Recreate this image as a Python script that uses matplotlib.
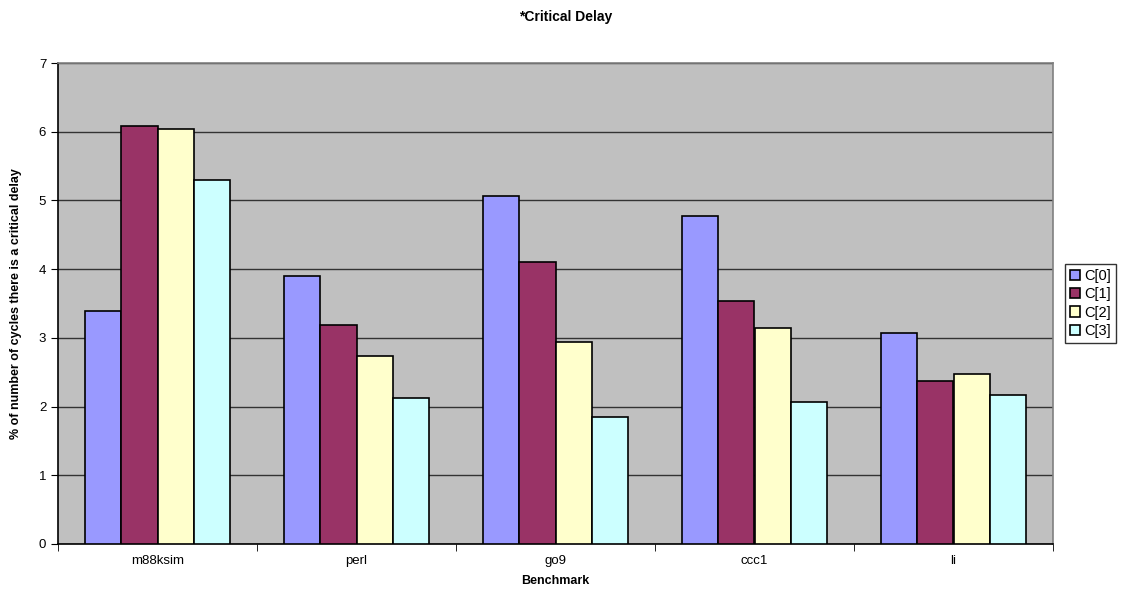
import matplotlib.pyplot as plt
import numpy as np

plt.rcParams['font.family'] = ['Liberation Sans', 'DejaVu Sans']

benchmarks = ['m88ksim', 'perl', 'go9', 'ccc1', 'li']
series_names = ['C[0]', 'C[1]', 'C[2]', 'C[3]']
c0 = [3.39, 3.90, 5.06, 4.78, 3.07]
c1 = [6.08, 3.19, 4.10, 3.53, 2.37]
c2 = [6.04, 2.74, 2.94, 3.15, 2.48]
c3 = [5.30, 2.12, 1.85, 2.07, 2.17]
colors = ['#9999FF', '#993366', '#FFFFCC', '#CCFFFF']

fig = plt.figure(figsize=(11.22, 5.94), dpi=100)
ax = fig.add_axes([58 / 1122, 1 - 544 / 594, (1053 - 58) / 1122, (544 - 63) / 594])
ax.set_facecolor('#C0C0C0')

x = np.arange(len(benchmarks))
w = 0.182
for i, (vals, name) in enumerate(zip([c0, c1, c2, c3], series_names)):
    ax.bar(x + (i - 1.5) * w, vals, w, color=colors[i], edgecolor='black',
           linewidth=1.2, label=name, zorder=3)

ax.set_xlim(-0.5, len(benchmarks) - 0.5)
ax.set_ylim(0, 7)
ax.set_yticks(range(8))
ax.yaxis.grid(True, color='#333333', linewidth=1, zorder=0)
ax.set_axisbelow(True)

# category labels centred, tick marks on the boundaries
ax.set_xticks(x)
ax.set_xticklabels(benchmarks, fontsize=9.5)
ax.tick_params(axis='x', length=0, pad=8)
ax.set_xticks(np.arange(-0.5, len(benchmarks)), minor=True)
ax.tick_params(axis='x', which='minor', length=5, direction='out', color='black')
ax.tick_params(axis='y', labelsize=9.5, length=5, direction='out')

for s in ['left', 'bottom']:
    ax.spines[s].set_color('black')
    ax.spines[s].set_linewidth(1.2)
for s in ['top', 'right']:
    ax.spines[s].set_color('#808080')
    ax.spines[s].set_linewidth(1.2)

ax.set_ylabel('% of number of cycles there is a critical delay', fontsize=9,
              fontweight='bold', labelpad=12)
ax.set_xlabel('Benchmark', fontsize=9, fontweight='bold', labelpad=6)
fig.text(0.504, 0.972, '*Critical Delay', ha='center', va='center',
         fontsize=10, fontweight='bold')

leg = ax.legend(loc='center left', bbox_to_anchor=(1.012, 0.5), fontsize=10.5,
                frameon=True, fancybox=False, edgecolor='black',
                handlelength=0.7, handleheight=0.7, handletextpad=0.3,
                borderpad=0.35, labelspacing=0.3, borderaxespad=0)
leg.get_frame().set_linewidth(1)

fig.savefig('out.png', dpi=100)
